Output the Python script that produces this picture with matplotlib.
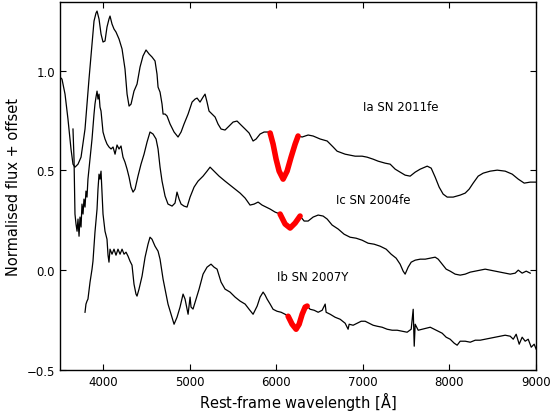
import matplotlib
matplotlib.use("Agg")
import matplotlib.pyplot as plt
import numpy as np

# Ia SN 2011fe
ia_wl = [3500, 3523, 3558, 3592, 3627, 3650, 3673, 3708, 3743, 3789, 3835, 3870, 3893, 3916, 3928,
         3951, 3974, 3997, 4020, 4043, 4066, 4078, 4101, 4124, 4147, 4182, 4217, 4251, 4275, 4298,
         4321, 4355, 4390, 4425, 4459, 4494, 4529, 4563, 4598, 4621, 4633, 4656, 4679, 4691, 4714,
         4737, 4772, 4818, 4864, 4899, 4933, 4980, 5026, 5061, 5084, 5118, 5153, 5176, 5199, 5222,
         5257, 5292, 5326, 5361, 5407, 5454, 5500, 5546, 5592, 5639, 5685, 5731, 5766, 5812, 5858,
         5904, 5928, 5962, 5997, 6032, 6078, 6124, 6170, 6217, 6251, 6298, 6367, 6425, 6506, 6587,
         6656, 6702, 6795, 6910, 6991, 7049, 7118, 7176, 7257, 7315, 7373, 7430, 7488, 7546, 7604,
         7662, 7743, 7789, 7835, 7881, 7927, 7974, 8043, 8124, 8182, 8228, 8274, 8332, 8390, 8471,
         8552, 8644, 8725, 8795, 8864, 8933, 9002]
ia_flux = [0.967, 0.957, 0.882, 0.757, 0.607, 0.531, 0.516, 0.531, 0.566, 0.707, 0.957, 1.133, 1.248, 1.288, 1.298,
           1.258, 1.183, 1.143, 1.148, 1.218, 1.258, 1.273, 1.233, 1.208, 1.193, 1.158, 1.108, 1.008, 0.882, 0.822,
           0.832, 0.897, 0.932, 1.018, 1.073, 1.103, 1.083, 1.068, 1.048, 0.982, 0.917, 0.892, 0.832, 0.782, 0.782,
           0.772, 0.732, 0.692, 0.667, 0.692, 0.732, 0.782, 0.842, 0.857, 0.862, 0.842, 0.867, 0.882, 0.842, 0.797,
           0.782, 0.767, 0.732, 0.707, 0.702, 0.722, 0.742, 0.747, 0.727, 0.707, 0.687, 0.647, 0.657, 0.682, 0.692,
           0.692, 0.687, 0.632, 0.556, 0.496, 0.456, 0.496, 0.566, 0.632, 0.672, 0.667, 0.677, 0.672, 0.657, 0.647,
           0.617, 0.596, 0.581, 0.571, 0.571, 0.566, 0.556, 0.546, 0.536, 0.531, 0.506, 0.491, 0.476, 0.471, 0.491,
           0.506, 0.521, 0.511, 0.466, 0.416, 0.381, 0.366, 0.366, 0.376, 0.386, 0.406, 0.436, 0.471, 0.486, 0.496,
           0.501, 0.496, 0.481, 0.456, 0.436, 0.441, 0.441]

# Ic SN 2004fe
ic_wl = [3650, 3662, 3673, 3685, 3697, 3708, 3720, 3731, 3743, 3754, 3766, 3777, 3789, 3800, 3812,
         3823, 3847, 3870, 3893, 3904, 3916, 3928, 3939, 3951, 3962, 3974, 3985, 3997, 4020, 4043,
         4066, 4090, 4113, 4136, 4159, 4182, 4205, 4228, 4251, 4275, 4298, 4321, 4344, 4367, 4401,
         4436, 4471, 4506, 4540, 4575, 4610, 4633, 4656, 4679, 4714, 4748, 4795, 4829, 4852, 4876,
         4899, 4933, 4968, 5003, 5049, 5095, 5153, 5199, 5234, 5280, 5338, 5407, 5465, 5523, 5581,
         5639, 5696, 5743, 5789, 5835, 5881, 5928, 5985, 6043, 6101, 6159, 6217, 6274, 6321, 6367,
         6425, 6483, 6540, 6587, 6644, 6714, 6783, 6852, 6922, 6991, 7060, 7130, 7199, 7269, 7326,
         7384, 7430, 7465, 7488, 7523, 7558, 7604, 7662, 7720, 7778, 7835, 7870, 7916, 7962, 8008,
         8066, 8124, 8182, 8240, 8298, 8355, 8413, 8471, 8529, 8586, 8644, 8702, 8760, 8795, 8840,
         8887, 8933]
ic_flux = [0.707, 0.556, 0.281, 0.231, 0.195, 0.256, 0.170, 0.266, 0.216, 0.331, 0.281, 0.356, 0.316, 0.396, 0.366,
           0.456, 0.556, 0.657, 0.782, 0.832, 0.867, 0.897, 0.857, 0.882, 0.817, 0.797, 0.747, 0.692, 0.657, 0.632,
           0.617, 0.607, 0.617, 0.581, 0.627, 0.607, 0.622, 0.566, 0.541, 0.506, 0.466, 0.416, 0.391, 0.406, 0.471,
           0.531, 0.581, 0.642, 0.692, 0.682, 0.657, 0.607, 0.516, 0.446, 0.371, 0.331, 0.321, 0.336, 0.391, 0.356,
           0.331, 0.321, 0.316, 0.366, 0.416, 0.446, 0.471, 0.496, 0.516, 0.496, 0.471, 0.446, 0.426, 0.406, 0.386,
           0.361, 0.326, 0.331, 0.341, 0.326, 0.316, 0.306, 0.291, 0.281, 0.231, 0.211, 0.236, 0.271, 0.246, 0.246,
           0.266, 0.276, 0.271, 0.256, 0.226, 0.206, 0.180, 0.165, 0.160, 0.150, 0.135, 0.130, 0.120, 0.105, 0.080,
           0.060, 0.030, -0.005, -0.020, 0.015, 0.040, 0.050, 0.055, 0.055, 0.060, 0.065, 0.055, 0.030, 0.005, -0.005,
           -0.020, -0.025, -0.020, -0.010, -0.005, 0.000, 0.005, 0.000, -0.005, -0.010, -0.015, -0.020, -0.015, 0.000, -0.015,
           -0.005, -0.015]

# Ib SN 2007Y
ib_wl = [3789, 3800, 3812, 3823, 3847, 3870, 3881, 3904, 3928, 3939, 3951, 3962, 3974, 3985, 3997,
         4020, 4043, 4055, 4066, 4078, 4101, 4124, 4147, 4170, 4194, 4217, 4240, 4263, 4286, 4309,
         4332, 4355, 4378, 4390, 4413, 4448, 4483, 4517, 4540, 4563, 4598, 4633, 4656, 4691, 4714,
         4748, 4783, 4818, 4852, 4887, 4922, 4945, 4968, 4980, 5003, 5014, 5037, 5072, 5107, 5153,
         5199, 5245, 5280, 5315, 5361, 5407, 5465, 5523, 5581, 5639, 5685, 5731, 5778, 5812, 5847,
         5870, 5893, 5928, 5962, 6008, 6055, 6101, 6136, 6182, 6228, 6263, 6298, 6333, 6356, 6390,
         6437, 6483, 6529, 6564, 6575, 6622, 6679, 6737, 6795, 6829, 6841, 6887, 6933, 6980, 7026,
         7072, 7118, 7165, 7222, 7280, 7338, 7396, 7454, 7511, 7558, 7581, 7593, 7604, 7639, 7685,
         7731, 7778, 7824, 7870, 7916, 7962, 8008, 8055, 8089, 8124, 8182, 8240, 8298, 8355, 8413,
         8471, 8529, 8586, 8644, 8702, 8737, 8771, 8806, 8840, 8875, 8910, 8945, 8979, 9002]
ib_flux = [-0.211, -0.170, -0.155, -0.145, -0.060, 0.005, 0.045, 0.190, 0.306, 0.406, 0.481, 0.456, 0.496, 0.391, 0.281,
           0.195, 0.155, 0.075, 0.040, 0.105, 0.080, 0.105, 0.075, 0.105, 0.080, 0.105, 0.080, 0.090, 0.070, 0.045,
           0.025, -0.070, -0.120, -0.130, -0.095, -0.030, 0.065, 0.130, 0.165, 0.155, 0.120, 0.095, 0.055, -0.045, -0.095,
           -0.170, -0.221, -0.271, -0.236, -0.185, -0.120, -0.145, -0.195, -0.221, -0.135, -0.185, -0.195, -0.145, -0.095, -0.020,
           0.015, 0.030, 0.015, 0.005, -0.060, -0.095, -0.110, -0.135, -0.155, -0.170, -0.196, -0.221, -0.180, -0.135, -0.110,
           -0.125, -0.145, -0.170, -0.196, -0.206, -0.211, -0.221, -0.231, -0.271, -0.296, -0.271, -0.221, -0.185, -0.180, -0.196,
           -0.201, -0.211, -0.201, -0.170, -0.211, -0.221, -0.236, -0.246, -0.266, -0.296, -0.271, -0.276, -0.266, -0.256, -0.256,
           -0.266, -0.276, -0.281, -0.286, -0.296, -0.301, -0.301, -0.306, -0.311, -0.296, -0.196, -0.381, -0.271, -0.301, -0.296,
           -0.291, -0.286, -0.296, -0.306, -0.316, -0.336, -0.346, -0.366, -0.376, -0.356, -0.356, -0.361, -0.351, -0.351, -0.346,
           -0.341, -0.336, -0.331, -0.326, -0.331, -0.346, -0.321, -0.371, -0.336, -0.356, -0.346, -0.386, -0.371, -0.396]

# wavelength windows of the fitted Si II feature (red)
ia_fit = (5925, 6255)
ic_fit = (6040, 6280)
ib_fit = (6130, 6360)

names = ["Ia SN 2011fe", "Ic SN 2004fe", "Ib SN 2007Y"]
name_pos = [(7003, 0.822), (6690, 0.356), (6008, -0.03)]

plt.rcParams["xtick.direction"] = "in"
plt.rcParams["ytick.direction"] = "in"
plt.rcParams["xtick.top"] = True
plt.rcParams["ytick.right"] = True
plt.rcParams["xtick.major.size"] = 4
plt.rcParams["ytick.major.size"] = 4
plt.rcParams["axes.linewidth"] = 1.0

fig = plt.figure(figsize=(5.52, 4.14), dpi=100)
ax = fig.add_axes([0.1087, 0.104, 0.8623, 0.8895])

for wl, fl, win in [(ia_wl, ia_flux, ia_fit), (ic_wl, ic_flux, ic_fit), (ib_wl, ib_flux, ib_fit)]:
    wl = np.array(wl)
    fl = np.array(fl)
    ax.plot(wl, fl, color="black", lw=0.9)
    m = (wl >= win[0]) & (wl <= win[1])
    ax.plot(wl[m], fl[m], color="red", lw=4, solid_capstyle="round")

for name, (x, y) in zip(names, name_pos):
    ax.text(x, y, name, fontsize=8.5, ha="left", va="center")

ax.set_xlim(3500, 9000)
ax.set_ylim(-0.5, 1.345)
ax.set_xticks([4000, 5000, 6000, 7000, 8000, 9000])
ax.set_yticks([-0.5, 0.0, 0.5, 1.0])
ax.tick_params(labelsize=8.5)
ax.set_xlabel(r"Rest-frame wavelength [$\mathrm{\AA}$]", fontsize=10.5, labelpad=1)
ax.set_ylabel("Normalised flux + offset", fontsize=10.5)

fig.savefig("out.png", dpi=100)
